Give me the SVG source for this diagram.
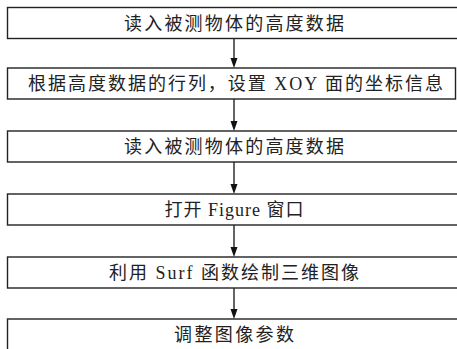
<svg xmlns="http://www.w3.org/2000/svg" width="457" height="349" viewBox="0 0 457 349">
<style>
.box{fill:#fff;stroke:#222;stroke-width:1.4}
.t{font-family:"Liberation Serif","Noto Sans CJK SC",serif;font-size:18px;fill:#222;text-anchor:middle}
.ln{stroke:#111;stroke-width:1.3;fill:none}
.ah{fill:#111}
</style>
<rect width="457" height="349" fill="#fff"/>
<g id="connectors">
<line class="ln" x1="234" y1="38.5" x2="234" y2="60"/><polygon class="ah" points="230.5,58 237.5,58 234,68"/>
<line class="ln" x1="234" y1="99" x2="234" y2="123"/><polygon class="ah" points="230.5,121 237.5,121 234,131"/>
<line class="ln" x1="234" y1="162" x2="234" y2="186"/><polygon class="ah" points="230.5,184 237.5,184 234,194"/>
<line class="ln" x1="234" y1="225" x2="234" y2="249"/><polygon class="ah" points="230.5,247 237.5,247 234,257"/>
<line class="ln" x1="234" y1="288" x2="234" y2="311"/><polygon class="ah" points="230.5,309 237.5,309 234,319"/>
</g>
<g id="n1"><rect class="box" x="7.5" y="7.5" width="455" height="31"/><text class="t" x="234" y="29.5" textLength="220" lengthAdjust="spacing">读入被测物体的高度数据</text></g>
<g id="n2"><rect class="box" x="7.5" y="68" width="448" height="31"/><text class="t" x="235.5" y="90" textLength="415" lengthAdjust="spacing">根据高度数据的行列，设置 XOY 面的坐标信息</text></g>
<g id="n3"><rect class="box" x="7.5" y="131" width="455" height="31"/><text class="t" x="234" y="153" textLength="220" lengthAdjust="spacing">读入被测物体的高度数据</text></g>
<g id="n4"><rect class="box" x="7.5" y="194" width="455" height="31"/><text class="t" x="234" y="216" textLength="139" lengthAdjust="spacing">打开 Figure 窗口</text></g>
<g id="n5"><rect class="box" x="7.5" y="257" width="455" height="31"/><text class="t" x="234" y="279" textLength="250" lengthAdjust="spacing">利用 Surf  函数绘制三维图像</text></g>
<g id="n6"><rect class="box" x="7.5" y="319" width="455" height="40"/><text class="t" x="234" y="341" textLength="120" lengthAdjust="spacing">调整图像参数</text></g>
</svg>
